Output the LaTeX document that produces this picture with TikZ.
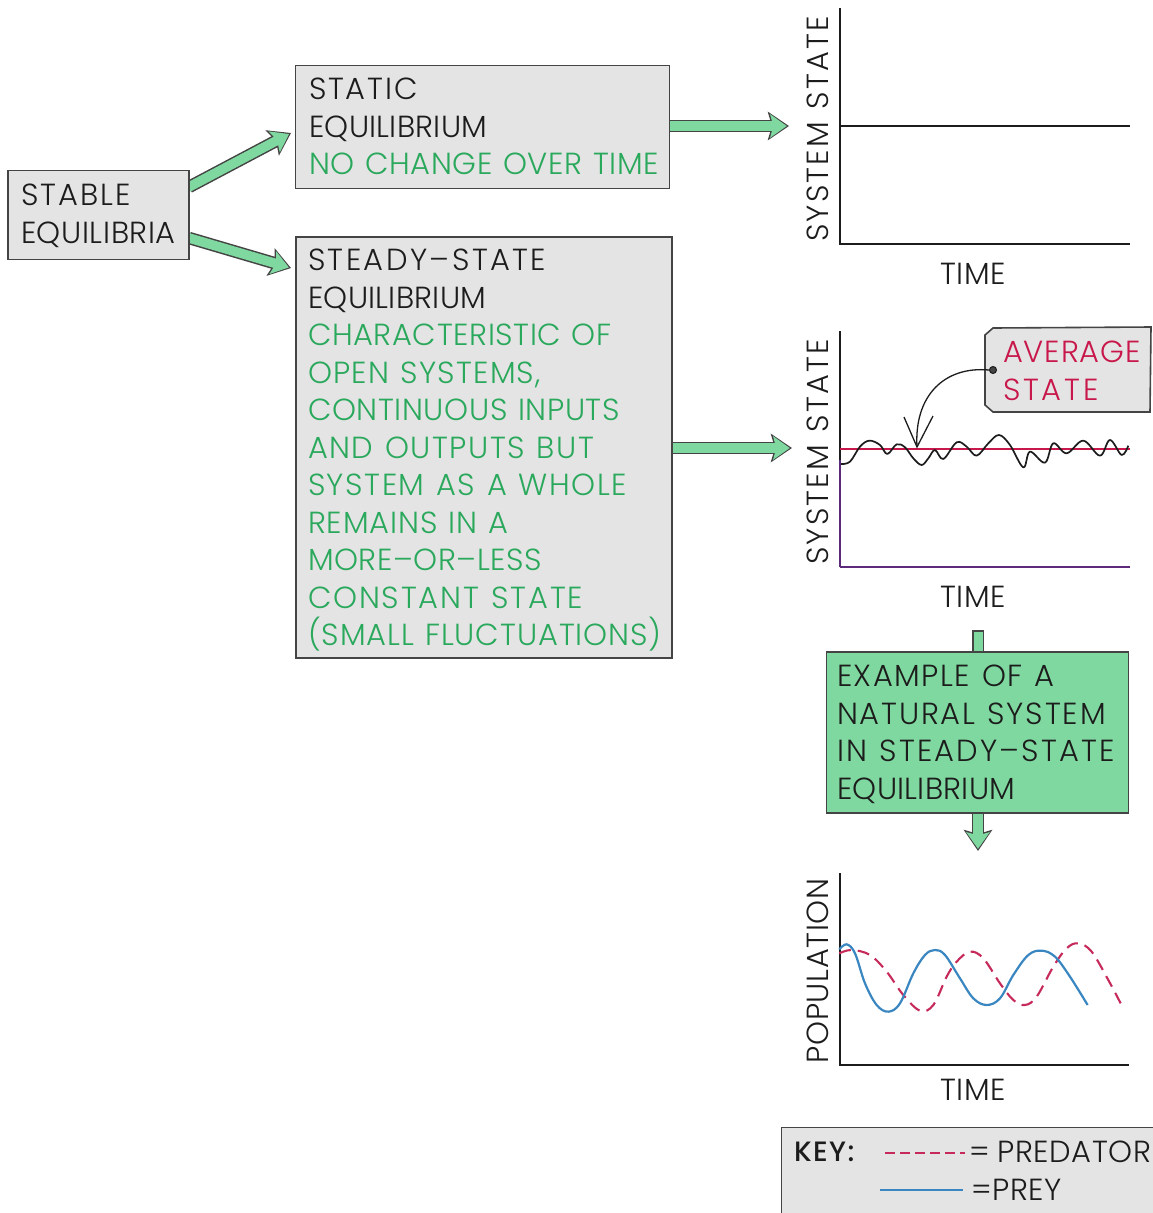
\documentclass[tikz,border=0pt]{standalone}
\usepackage{fontspec}
\setmainfont{Poppins Light}[WordSpace=1.2,LetterSpace=2]
\newfontfamily\keyfont{Poppins Medium}[LetterSpace=2]
\usetikzlibrary{arrows.meta}
\definecolor{boxgray}{HTML}{E4E4E4}
\definecolor{boxline}{HTML}{444444}
\definecolor{mint}{HTML}{7FD89F}
\definecolor{greentext}{HTML}{2AA85C}
\definecolor{redtext}{HTML}{C8174A}
\definecolor{preycol}{HTML}{3A86C0}
\definecolor{predcol}{HTML}{C62A5A}
\definecolor{axispurple}{HTML}{5B2A7A}
\definecolor{inkcol}{HTML}{1C1C1C}
\newcommand{\ls}[2]{{\addfontfeature{LetterSpace=#1}#2}}
\newcommand{\gl}[2]{\textcolor{greentext}{\ls{#1}{#2}}}
\tikzset{
  txt/.style={font=\fontsize{30.5}{37.5}\selectfont, text=inkcol, inner sep=0pt, outer sep=0pt},
  para/.style={txt, align=left, anchor=north west},
  panel/.style={draw=boxline, line width=1.6pt, fill=boxgray, inner sep=0pt, outer sep=0pt, minimum width=#1},
  axis/.style={draw=inkcol, line width=1.8pt},
  axislabel/.style={txt, rotate=90},
  outerarrow/.style={draw=boxline, line width=12.5pt, -{Stealth[length=21pt,width=28pt,inset=4pt]}},
  innerarrow/.style={draw=mint, line width=9.5pt, -{Stealth[length=16.5pt,width=23pt,inset=3pt]}, shorten >=2.2pt, shorten <=-1pt}
}
\newcommand{\blockarrow}[2]{%
  \path[outerarrow] (#1) -- (#2);
  \path[innerarrow] (#1) -- (#2);
}
\begin{document}
\begin{tikzpicture}[x=1pt,y=-1pt]
\useasboundingbox (0,0) rectangle (1152,1213);

% anchors for the block arrows
\coordinate (a1s) at (189,187);
\coordinate (a1e) at (291,133);
\coordinate (a2s) at (189,238);
\coordinate (a2e) at (291,268);
\coordinate (a3s) at (668,126);
\coordinate (a3e) at (789,126);
\coordinate (a4s) at (671,448);
\coordinate (a4e) at (792,448);
\coordinate (a5s) at (978,812);
\coordinate (a5e) at (978,851);

\blockarrow{a1s}{a1e}
\blockarrow{a2s}{a2e}
\blockarrow{a3s}{a3e}
\blockarrow{a4s}{a4e}
\blockarrow{a5s}{a5e}

% stub above the green box
\coordinate (stubtop) at (978,630);
\coordinate (stubbot) at (978,654);
\draw[draw=boxline,line width=12pt] (stubtop) -- (stubbot);
\draw[draw=mint,line width=9pt] ([yshift=-1.5pt]stubtop) -- (stubbot);

% boxes
\node[panel=181pt, minimum height=89pt, anchor=north west] (stable) at (8,170.5) {};
\node[panel=374pt, minimum height=123pt, anchor=north west] (static) at (295.5,65.5) {};
\node[panel=376pt, minimum height=421pt, anchor=north west] (steady) at (296,237) {};
\node[panel=302pt, minimum height=161pt, anchor=north west, fill=mint] (example) at (826.5,652) {};

\node[para] (stabletxt) at (21,184) {\ls{7}{STABLE}\\EQUILIBRIA};
\node[para] (statictxt) at (309,78) {\ls{6}{STATIC}\\\ls{1}{EQUILIBRIUM}\\\textcolor{greentext}{NO CHANGE OVER TIME}};
\node[para] (steadytxt) at (308,249) {\ls{8}{STEADY–STATE}\\\ls{1}{EQUILIBRIUM}\\\textcolor{greentext}{CHARACTERISTIC OF}\\\gl{4}{OPEN SYSTEMS,}\\\textcolor{greentext}{CONTINUOUS INPUTS}\\\gl{5}{AND OUTPUTS BUT}\\\gl{5}{SYSTEM AS A WHOLE}\\\gl{3}{REMAINS IN A}\\\textcolor{greentext}{MORE–OR–LESS}\\\gl{6}{CONSTANT STATE}\\\gl{3}{(SMALL FLUCTUATIONS)}};
\node[para] (exampletxt) at (837,665) {\ls{5}{EXAMPLE OF A}\\\ls{6}{NATURAL SYSTEM}\\\ls{7}{IN STEADY–STATE}\\\ls{1}{EQUILIBRIUM}};

% chart 1
\coordinate (c1top) at (840,8);
\coordinate (c1o) at (840,244);
\coordinate (c1r) at (1130,244);
\draw[axis] (c1top) -- (c1o) -- (c1r);
\coordinate (c1a) at (840,126);
\coordinate (c1b) at (1130,126);
\draw[axis] (c1a) -- (c1b);
\node[axislabel] (c1y) at (818,129) {\ls{7}{SYSTEM STATE}};
\node[txt] (c1x) at (973,274) {TIME};

% chart 2
\coordinate (c2top) at (840,331);
\coordinate (c2mid) at (840,460);
\coordinate (c2o) at (840,567);
\coordinate (c2r) at (1130,567);
\draw[axis] (c2top) -- (c2mid);
\draw[axis,draw=axispurple] (c2mid) -- (c2o);
\draw[axis,draw=axispurple] (c2o) -- (c2r);
\coordinate (c2a) at (840,449);
\coordinate (c2b) at (1130,449);
\draw[draw=redtext,line width=1.7pt] (c2a) -- (c2b);
\node[axislabel] (c2y) at (818,452) {\ls{7}{SYSTEM STATE}};
\node[txt] (c2x) at (973,597) {TIME};

\begin{scope}[shift={(780,310)},x=0.3333pt,y=-0.3333pt]
\draw[draw=inkcol,line width=1.7pt,line join=round] plot[smooth,tension=0.6] coordinates {(183,462)(210,455)(240,410)(268,392)(300,405)(322,432)(350,403)(375,412)(400,445)(425,465)(445,445)(465,420)(490,447)(530,397)(560,410)(590,437)(625,400)(657,375)(690,405)(730,472)(750,425)(795,458)(820,400)(860,430)(910,392)(960,437)(990,390)(1025,435)(1045,407)};
\end{scope}

% tag
\draw[draw=boxline,line width=1.6pt,fill=boxgray] (993,328) -- (1151,327) -- (1150,412) -- (993,412) -- (985,405) -- (985,335) -- cycle;
\node[txt, text=redtext, anchor=west] (avg) at (1003,352) {\ls{3}{AVERAGE}};
\node[txt, text=redtext, anchor=west] (stt) at (1003,390) {\ls{9}{STATE}};
\node[circle, draw=inkcol, fill=boxline, line width=1pt, minimum size=7pt, inner sep=0pt] (hole) at (993,370) {};
\coordinate (ptip) at (917,447);
\coordinate (pl) at (904,417);
\coordinate (pr) at (933,416);
\draw[draw=inkcol,line width=1.3pt] (hole.west) .. controls (945,366) and (914,395) .. (ptip);
\draw[draw=inkcol,line width=1.3pt] (pl) -- (ptip) -- (pr);

% chart 3
\coordinate (c3top) at (840,873);
\coordinate (c3o) at (840,1065);
\coordinate (c3r) at (1129,1065);
\draw[axis] (c3top) -- (c3o) -- (c3r);
\node[axislabel] (c3y) at (818,971) {POPULATION};
\node[txt] (c3x) at (973,1090) {TIME};

\begin{scope}[shift={(780,860)},x=0.3333pt,y=-0.3333pt]
\draw[draw=predcol,line width=2.1pt,dash pattern=on 12pt off 7pt] plot[smooth,tension=0.6] coordinates {(178,280)(215,270)(270,285)(320,335)(370,405)(420,452)(460,435)(500,350)(530,305)(570,275)(610,295)(660,370)(700,420)(735,435)(770,410)(820,320)(860,265)(895,250)(935,275)(985,360)(1022,430)};
\draw[draw=preycol,line width=2.2pt] plot[smooth,tension=0.6] coordinates {(178,268)(200,253)(225,280)(255,370)(290,435)(325,455)(360,430)(400,340)(435,285)(465,270)(495,285)(540,355)(580,415)(620,435)(660,415)(700,345)(745,285)(785,272)(825,290)(870,350)(923,435)};
\end{scope}

% key
\draw[draw=boxline,line width=1.6pt,fill=boxgray] (781.5,1216) -- (781.5,1127.5) -- (1158,1127.5) -- (1158,1216);
\node[txt, anchor=west, font=\keyfont\fontsize{28}{30}\selectfont] (key) at (794,1152) {\ls{5}{KEY:}};
\coordinate (k1a) at (885,1153);
\coordinate (k1b) at (965,1153);
\draw[draw=predcol,line width=1.8pt,dash pattern=on 10pt off 5pt] (k1a) -- (k1b);
\node[txt, anchor=west] (pred) at (969,1152) {=\hspace{-3pt} PREDATOR};
\coordinate (k2a) at (880,1190);
\coordinate (k2b) at (963,1190);
\draw[draw=preycol,line width=2.2pt] (k2a) -- (k2b);
\node[txt, anchor=west] (prey) at (971,1190) {=PREY};
\end{tikzpicture}
\end{document}
